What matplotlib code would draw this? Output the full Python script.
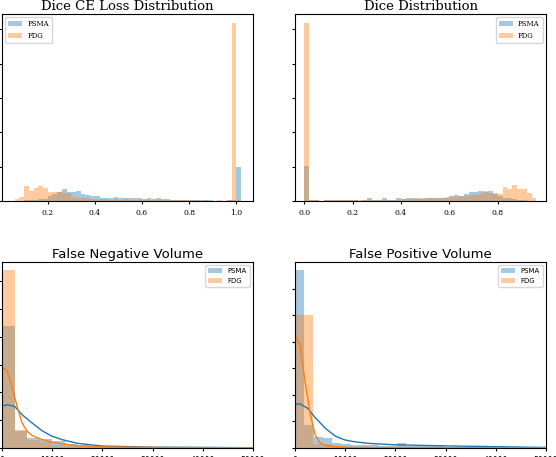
import numpy as np
import matplotlib
matplotlib.use("Agg")
import matplotlib.pyplot as plt

# ---- data ----
ce_edges = np.round(np.arange(0.06, 1.0201, 0.02), 4)
ce_psma = [0.2,0.2,0.3,0.5,0.5,1,1,3,4,5,7,5.5,5.5,6,4,3.5,3,3,2,2,2,2.5,2,1.5,1.5,1.5,1.5,1,1.5,1,1.5,1,1,0.8,0.5,0.5,0.3,0.5,0.3,0.3,0.5,0.3,0.2,0.2,0.2,0.5,0.5,20]
ce_fdg = [1,2.5,9,6,7.5,9,7.5,5.5,5,5.5,4.5,4.5,2.5,2,1.5,1.5,1.2,1,1,1,0.8,1,0.8,1,0.7,0.6,0.6,0.5,0.5,0.5,0.4,0.4,0.4,0.5,0.3,0.4,0.3,0.5,0.3,0.2,0.3,0.2,0.2,0.3,0.2,0.3,104,0.5]

d_edges = np.round(np.arange(0.0, 0.9601, 0.02), 4)
d_psma = [20.6,0.3,0.3,0.2,0.3,0.3,0.3,0.3,0.3,0.3,0.3,0.2,0.3,2,0.5,0.3,2,0.5,0.8,1.5,1.2,1.5,1.5,1.5,1.2,1.8,2,2,1.8,2,3,3.5,3,4,5,5.5,6,5.5,6,4,3,2,1.5,1,0.5,0.3,0.2,0]
d_fdg = [104,0.3,0.3,0.2,0.3,0.3,0.3,0.3,0.3,0.3,0.3,0.3,0.3,0.3,0.5,0.5,0.5,0.8,0.8,0.8,1,1,1,1.2,1.5,1.5,1.5,1.5,1.8,2.5,2.5,2.5,3,3,3.5,3.5,4,6,4.5,4.5,4,8,7,9.5,7,7,4.5,1.5]

fn_edges = np.arange(0, 50001, 2500)
fn_psma = [4.4,0.6,0.35,0.33,0.25,0.15,0.1,0.08,0.06,0.05,0.04,0.03,0.03,0.04,0.03,0.03,0.02,0.02,0.02,0.02]
fn_fdg = [6.4,0.65,0.3,0.2,0.12,0.08,0.05,0.04,0.03,0.03,0.02,0.02,0.02,0.02,0.02,0.02,0.02,0.02,0.02,0.02]
fn_kx = [0,1000,2500,4000,6000,8000,10000,12000,15000,20000,30000,40000,50000]
fn_kpsma = [1.5,1.56,1.5,1.2,0.9,0.62,0.42,0.3,0.17,0.07,0.03,0.02,0.01]
fn_kfdg_x = [0,1000,2000,3000,4000,5000,6000,8000,10000,15000,20000,30000,50000]
fn_kfdg = [2.9,2.8,2.2,1.5,0.9,0.6,0.45,0.3,0.2,0.08,0.04,0.02,0.01]

fp_psma_edges = np.arange(0, 50001, 1850)
fp_psma = [6.7,0.86,0.41,0.36,0.19,0.15,0.12,0.1,0.1,0.08,0.08,0.19,0.07,0.06,0.06,0.06,0.05,0.05,0.05,0.05,0.04,0.04,0.04,0.03,0.03,0.03,0.03]
fp_fdg_edges = np.arange(0, 50001, 3660)
fp_fdg = [5.0,0.16,0.05,0.04,0.03,0.03,0.02,0.02,0.02,0.02,0.02,0.02,0.02]
fp_kx = [0,1000,2500,4000,6000,8000,10000,12000,15000,20000,25000,30000,40000,50000]
fp_kpsma = [1.65,1.66,1.5,1.15,0.75,0.45,0.3,0.23,0.17,0.12,0.1,0.08,0.05,0.02]
fp_kfdg_x = [0,1000,2000,3000,4000,5000,6000,8000,12000,50000]
fp_kfdg = [4.2,3.9,2.5,1.3,0.5,0.2,0.1,0.05,0.02,0.005]

fig = plt.figure(figsize=(5.56, 4.57), dpi=100)
W, H = 556, 457
def ax_at(x0, y0, x1, y1):
    return fig.add_axes([x0/W, 1-y1/H, (x1-x0)/W, (y1-y0)/H])

def bars(ax, edges, vals, color, label):
    e = np.asarray(edges, float)
    n = len(vals)
    ax.bar(e[:n], vals, width=np.diff(e)[:n] if len(e) > n else (e[1]-e[0]),
           align='edge', color=color, alpha=0.4, label=label, linewidth=0)

serif = 'DejaVu Serif'
a1 = ax_at(2, 14, 253, 201)
bars(a1, ce_edges, ce_psma, 'C0', 'PSMA')
bars(a1, ce_edges, ce_fdg, 'C1', 'FDG')
a1.set_xlim(0.006, 1.071); a1.set_ylim(0, 109)
a1.set_title('Dice CE Loss Distribution', family=serif, fontsize=9.5, pad=3)
a1.legend(loc='upper left', prop={'family': serif, 'size': 5})

a2 = ax_at(295, 14, 546, 201)
bars(a2, d_edges, d_psma, 'C0', 'PSMA')
bars(a2, d_edges, d_fdg, 'C1', 'FDG')
a2.set_xlim(-0.039, 1.0); a2.set_ylim(0, 109)
a2.set_title('Dice Distribution', family=serif, fontsize=9.5, pad=3)
a2.legend(loc='upper right', prop={'family': serif, 'size': 5})

for a in (a1, a2):
    a.set_yticks(np.arange(0, 101, 20))
    a.set_yticklabels([''] * 6)
    a.tick_params(labelsize=5.5, length=2.5)
    a.set_xticks([0.0,0.2,0.4,0.6,0.8] if a is a2 else [0.2,0.4,0.6,0.8,1.0])
    a.set_xticklabels([f'{v:.1f}' for v in a.get_xticks()], family=serif, fontsize=5.5)

a3 = ax_at(2, 262, 253, 448)
bars(a3, fn_edges, fn_psma, 'C0', 'PSMA')
bars(a3, fn_edges, fn_fdg, 'C1', 'FDG')
a3.plot(fn_kx, fn_kpsma, color='C0', lw=1)
a3.plot(fn_kfdg_x, fn_kfdg, color='C1', lw=1)
a3.set_ylim(0, 6.7)
a3.set_title('False Negative Volume', fontsize=9.5, pad=3)

a4 = ax_at(295, 262, 546, 448)
bars(a4, fp_psma_edges, fp_psma, 'C0', 'PSMA')
bars(a4, fp_fdg_edges, fp_fdg, 'C1', 'FDG')
a4.plot(fp_kx, fp_kpsma, color='C0', lw=1)
a4.plot(fp_kfdg_x, fp_kfdg, color='C1', lw=1)
a4.set_ylim(0, 7.0)
a4.set_title('False Positive Volume', fontsize=9.5, pad=3)

for a in (a3, a4):
    a.set_xlim(0, 50000)
    a.set_xticks(np.arange(0, 50001, 10000))
    a.set_yticks(np.arange(0, 7, 1))
    a.set_yticklabels([''] * 7)
    a.tick_params(labelsize=5.5, length=2.5)
    a.legend(loc='upper right', fontsize=5)

fig.savefig('out.png', dpi=100)
